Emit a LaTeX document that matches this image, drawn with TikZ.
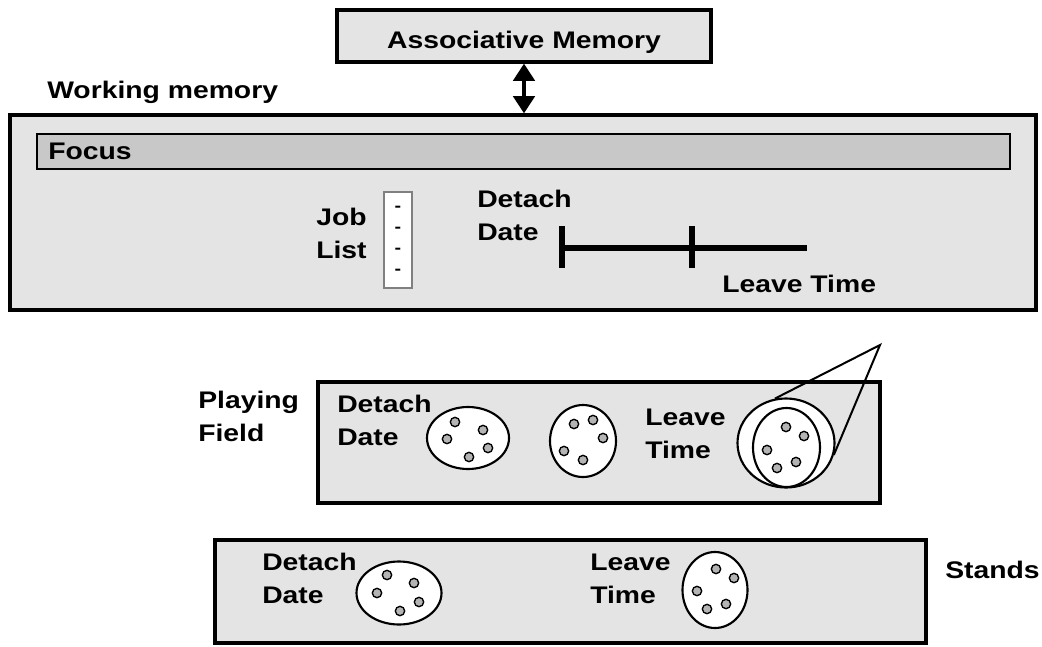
\documentclass[tikz,border=0pt]{standalone}
\usepackage{fontspec}
\setmainfont{Liberation Sans}[FakeStretch=1.18]
\usetikzlibrary{arrows.meta,shapes.geometric,fit}
\definecolor{boxgray}{HTML}{E4E4E4}
\definecolor{focusgray}{HTML}{C8C8C8}
\definecolor{dotgray}{HTML}{B4B4B4}
\begin{document}
\begin{tikzpicture}[x=0.75pt,y=-0.75pt,
  labfont/.style={font=\bfseries\fontsize{18}{24.3}\selectfont},
  box/.style={draw=black, line width=2.4pt, fill=boxgray, inner sep=0pt},
  lab/.style={labfont, inner sep=0pt, anchor=base west, align=left},
  blob/.style={ellipse, draw=black, line width=1.6pt, fill=white, inner sep=0pt},
  dot/.style={circle, draw=black, line width=1pt, fill=dotgray, minimum size=7pt, inner sep=0pt},
  bar/.style={line width=4.5pt},
  thin/.style={line width=1.5pt}
]
\useasboundingbox (0,0) rectangle (1042,646);
\fill[white] (0,0) rectangle (1042,646);

% Associative memory and working memory
\node[box, minimum width=280.5pt, minimum height=39pt, labfont, text height=18pt, text depth=0pt] (assoc) at (524,36) {Associative Memory};
\node[box, fit={(10,115)(1036,310)}] (wm) {};
\node[lab] (wmlab) at (47,98) {Working memory};
\draw[line width=3pt, {Triangle[width=16pt,length=13pt]}-{Triangle[width=16pt,length=13pt]}]
  (assoc.south) -- (assoc.south |- wm.north);

% Focus bar
\node[draw=black, line width=1.6pt, fill=focusgray, inner sep=0pt, fit={(37,134)(1010,169)}] (focus) {};
\node[lab] (focuslab) at (48,159) {Focus};

% Job list
\node[draw=black!50, line width=0.8pt, fill=white, inner sep=0pt, fit={(384,192)(412,288)}] (joblist) {};
\node[font=\bfseries\fontsize{12.5}{15.75}\selectfont, align=center, inner sep=0pt] (dashes) at (joblist.center) {-\\-\\-\\-};
\node[lab] (joblab) at (316,258) {Job\\List};

% Timeline
\node[lab] (detach1) at (477,240) {Detach\\Date};
\coordinate (t0) at (562,248);
\coordinate (t1) at (692,248);
\coordinate (t2) at (807,248);
\draw[bar] (t0) -- (t2);
\draw[bar] ([yshift=-20*0.75pt]t0) -- ([yshift=22*0.75pt]t0);
\draw[bar] ([yshift=-20*0.75pt]t1) -- ([yshift=22*0.75pt]t1);
\node[lab] (leave1) at (722,292) {Leave Time};

% Playing field
\node[box, fit={(318,382)(880,503)}] (pf) {};
\node[lab] (playlab) at (198,441) {Playing\\Field};
\node[lab] (detach2) at (337,445) {Detach\\Date};
\node[lab] (leave2) at (645,458) {Leave\\Time};
\node[blob, minimum width=61.5pt, minimum height=46.5pt] (pe1) at (468,438) {};
\node[blob, minimum width=49.5pt, minimum height=54pt] (pe2) at (583,441) {};
\node[blob, minimum width=72.75pt, minimum height=66.75pt] (big) at (786,443) {};
\node[blob, minimum width=50.25pt, minimum height=59.25pt] (inner) at (786.5,447.5) {};
\coordinate (apex) at (880,345);
\draw[thin] (big.104) -- (apex) -- (big.-14);

\foreach \p [count=\i] in {(455,422),(483,430),(447,439),(488,448),(469,457)}
  \node[dot] (a\i) at \p {};
\foreach \p [count=\i] in {(574,424),(593,420),(603,438),(564,451),(583,460)}
  \node[dot] (b\i) at \p {};
\foreach \p [count=\i] in {(786,427),(804,436),(767,450),(777,468),(796,462)}
  \node[dot] (c\i) at \p {};

% Stands
\node[box, fit={(215,540)(926,643)}] (stands) {};
\node[lab] (standslab) at (945,578) {Stands};
\node[lab] (detach3) at (262,603) {Detach\\Date};
\node[lab] (leave3) at (590,603) {Leave\\Time};
\node[blob, minimum width=63.75pt, minimum height=47.25pt] (se1) at (399,593) {};
\node[blob, minimum width=48.75pt, minimum height=57pt] (se2) at (715,590) {};
\foreach \p [count=\i] in {(387,575),(414,583),(377,593),(419,602),(400,611)}
  \node[dot] (e\i) at \p {};
\foreach \p [count=\i] in {(716,569),(734,578),(697,591),(707,609),(726,604)}
  \node[dot] (f\i) at \p {};
\end{tikzpicture}
\end{document}
